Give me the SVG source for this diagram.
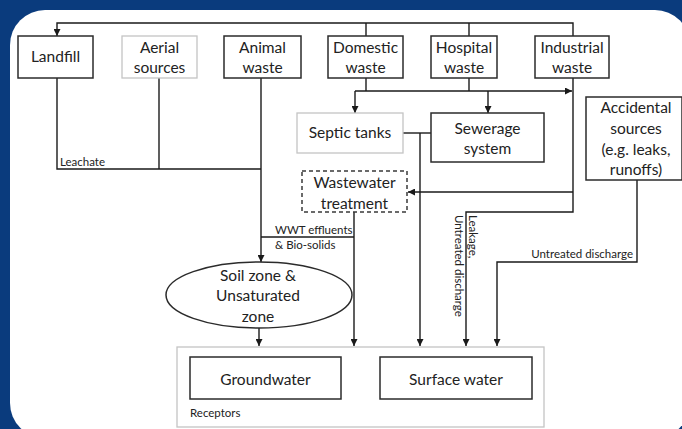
<svg xmlns="http://www.w3.org/2000/svg" width="682" height="429" viewBox="0 0 682 429">
<defs>
<marker id="ah" markerWidth="7" markerHeight="7" refX="7" refY="3.5" orient="auto" markerUnits="userSpaceOnUse">
<path d="M0,0 L7,3.5 L0,7 z" fill="#1a1a1a"/>
</marker>
<style>
.box{fill:#fff;stroke:#2b2b2b;stroke-width:1.5}
.lbox{fill:#fff;stroke:#c4c4c4;stroke-width:1.3}
.dbox{fill:#fff;stroke:#3a3a3a;stroke-width:1.5;stroke-dasharray:4,3}
.t{font-family:Lato,"Liberation Sans",sans-serif;font-size:15.5px;fill:#222;text-anchor:middle}
.s{font-family:Lato,"Liberation Sans",sans-serif;font-size:11.5px;fill:#222}
.c{fill:none;stroke:#1a1a1a;stroke-width:1.4}
.a{marker-end:url(#ah)}
</style>
</defs>
<rect x="0" y="0" width="682" height="429" fill="#0a3b7d"/>
<rect x="10" y="10" width="680" height="428" rx="35" ry="35" fill="#fff"/>

<g id="connectors">
<polyline class="c a" points="573,36 573,23 57,23 57,36"/>
<line class="c" x1="366" y1="23" x2="366" y2="36"/>
<line class="c" x1="469" y1="23" x2="469" y2="36"/>
<line class="c" x1="366" y1="78" x2="366" y2="91"/>
<line class="c" x1="469" y1="78" x2="469" y2="91"/>
<line class="c a" x1="355" y1="91" x2="572" y2="91"/>
<line class="c a" x1="355" y1="91" x2="355" y2="113"/>
<line class="c a" x1="488" y1="91" x2="488" y2="113"/>
<line class="c" x1="403" y1="133" x2="431" y2="133"/>
<line class="c a" x1="420" y1="133" x2="420" y2="346"/>
<polyline class="c a" points="573,78 573,212 466,212 466,346"/>
<line class="c a" x1="573" y1="192" x2="408" y2="192"/>
<line class="c a" x1="354" y1="212" x2="354" y2="346"/>
<polyline class="c a" points="637,180 637,262 497,262 497,346"/>
<polyline class="c" points="57,78 57,169 261,169"/>
<line class="c" x1="159" y1="78" x2="159" y2="169"/>
<line class="c a" x1="261" y1="78" x2="261" y2="262"/>
<line class="c" x1="261" y1="237" x2="354" y2="237"/>
<line class="c a" x1="259" y1="328" x2="259" y2="346"/>
<text class="s" x="60" y="166">Leachate</text>
<text class="s" x="275" y="234">WWT effluents</text>
<text class="s" x="275" y="249">&amp; Bio-solids</text>
<text class="s" x="633" y="258" text-anchor="end">Untreated discharge</text>
<text class="s" transform="translate(469,215) rotate(90)">Leakage,</text>
<text class="s" transform="translate(455,215) rotate(90)">Untreated discharge</text>
</g>

<g id="landfill"><rect class="box" x="18" y="36" width="75" height="42"/><text class="t" x="55.5" y="62">Landfill</text></g>
<g id="aerial"><rect class="lbox" x="122" y="36" width="75" height="42"/><text class="t" x="159.5" y="53">Aerial</text><text class="t" x="159.5" y="73">sources</text></g>
<g id="animal"><rect class="box" x="224" y="36" width="77" height="42"/><text class="t" x="262.5" y="53">Animal</text><text class="t" x="262.5" y="73">waste</text></g>
<g id="domestic"><rect class="box" x="328" y="36" width="75" height="42"/><text class="t" x="365.5" y="53">Domestic</text><text class="t" x="365.5" y="73">waste</text></g>
<g id="hospital"><rect class="box" x="431" y="36" width="66" height="42"/><text class="t" x="464" y="53">Hospital</text><text class="t" x="464" y="73">waste</text></g>
<g id="industrial"><rect class="box" x="535" y="36" width="74" height="42"/><text class="t" x="572" y="53">Industrial</text><text class="t" x="572" y="73">waste</text></g>
<g id="septic"><rect class="lbox" x="297" y="113" width="106" height="40"/><text class="t" x="350" y="138">Septic tanks</text></g>
<g id="sewerage"><rect class="box" x="431" y="113" width="113" height="49"/><text class="t" x="487.5" y="134">Sewerage</text><text class="t" x="487.5" y="154">system</text></g>
<g id="accidental"><rect class="box" x="586" y="97" width="96" height="83"/><text class="t" x="636" y="113">Accidental</text><text class="t" x="636" y="134">sources</text><text class="t" x="636" y="155">(e.g. leaks,</text><text class="t" x="636" y="175">runoffs)</text></g>
<g id="wastewater"><rect class="dbox" x="302" y="171" width="105" height="41"/><text class="t" x="354.5" y="188">Wastewater</text><text class="t" x="354.5" y="209">treatment</text></g>
<g id="soil"><ellipse cx="259" cy="295" rx="93" ry="33" fill="#fff" stroke="#2b2b2b" stroke-width="1.5"/><text class="t" x="258" y="281">Soil zone &amp;</text><text class="t" x="258" y="301">Unsaturated</text><text class="t" x="258" y="322">zone</text></g>
<g id="receptors"><rect class="lbox" x="177" y="347" width="367" height="80"/><text class="s" x="190" y="417">Receptors</text>
<g id="groundwater"><rect class="box" x="190" y="357" width="151" height="42"/><text class="t" x="265.5" y="385">Groundwater</text></g>
<g id="surface"><rect class="box" x="380" y="357" width="152" height="42"/><text class="t" x="456" y="385">Surface water</text></g>
</g>
</svg>
